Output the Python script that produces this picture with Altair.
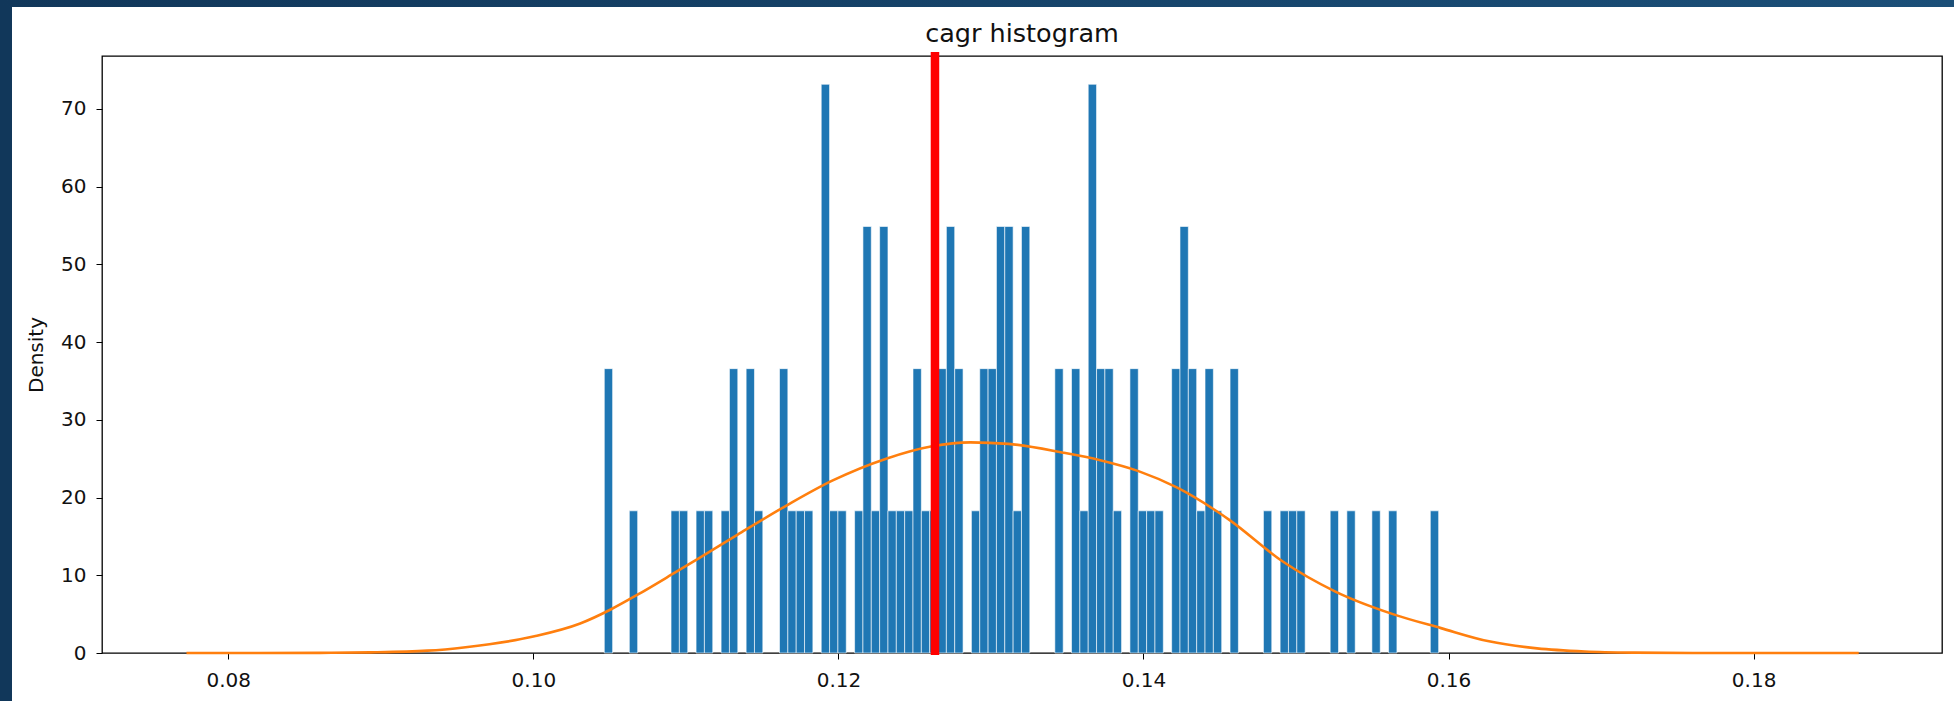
import altair as alt
import pandas as pd

# ---- data ----
# histogram: 100 equal bins, counts per bin (left to right)
bin_counts = [
    2, 0, 0, 1, 0, 0, 0, 0, 1, 1,
    0, 1, 1, 0, 1, 2, 0, 2, 1, 0,
    0, 2, 1, 1, 1, 0, 4, 1, 1, 0,
    1, 3, 1, 3, 1, 1, 1, 2, 1, 1,
    2, 3, 2, 0, 1, 2, 2, 3, 3, 1,
    3, 0, 0, 0, 2, 0, 2, 1, 4, 2,
    2, 1, 0, 2, 1, 1, 1, 0, 2, 3,
    2, 1, 2, 1, 0, 2, 0, 0, 0, 1,
    0, 1, 1, 1, 0, 0, 0, 1, 0, 1,
    0, 0, 1, 0, 1, 0, 0, 0, 0, 1,
]
BIN_START = 0.10465
BIN_WIDTH = 0.000547
DENSITY_PER_COUNT = 18.29

# KDE curve points (x, density)
kde_x = [0.07726, 0.0820, 0.0860, 0.0893, 0.09305, 0.09556, 0.10007, 0.10307,
         0.10507, 0.10683, 0.10933, 0.11103, 0.11337, 0.11662, 0.11963, 0.12313,
         0.12614, 0.12865, 0.13115, 0.13466, 0.13716, 0.13967, 0.14218, 0.14468,
         0.14565, 0.14911, 0.15258, 0.15635, 0.1595, 0.16265, 0.1658, 0.16894,
         0.1722, 0.1760, 0.1820, 0.18689]
kde_y = [0.0, 0.0, 0.02, 0.08, 0.3, 0.75, 2.15, 3.8,
         5.6, 7.5, 10.4, 12.4, 15.2, 19.0, 22.2, 25.0,
         26.6, 27.1, 26.9, 25.8, 24.8, 23.4, 21.3, 18.4,
         17.1, 11.8, 7.9, 5.0, 3.2, 1.5, 0.6, 0.2,
         0.05, 0.0, 0.0, 0.0]

marker_value = [0.12633]
chart_title = "cagr histogram"
y_title = "Density"

x_ticks = [0.08, 0.10, 0.12, 0.14, 0.16, 0.18]
y_ticks = [0, 10, 20, 30, 40, 50, 60, 70]
X_DOMAIN = [0.07172, 0.19235]
Y_DOMAIN = [0, 76.8]

W, H = 1840, 597
PAD_L, PAD_T, PAD_R, PAD_B = 102, 56, 12, 48
FONT = "DejaVu Sans"

bars_df = pd.DataFrame({"i": list(range(len(bin_counts))), "count": bin_counts})
bars_df = bars_df[bars_df["count"] > 0].copy()
bars_df["x0"] = BIN_START + bars_df["i"] * BIN_WIDTH
bars_df["x1"] = bars_df["x0"] + BIN_WIDTH
bars_df["density"] = bars_df["count"] * DENSITY_PER_COUNT

kde_df = pd.DataFrame({"x": kde_x, "y": kde_y})
mark_df = pd.DataFrame({"v": marker_value})
one = pd.DataFrame({"a": [0]})

xscale = alt.Scale(domain=X_DOMAIN, nice=False, zero=False)
yscale = alt.Scale(domain=Y_DOMAIN, nice=False, zero=True)

x_axis = alt.Axis(values=x_ticks, format=".2f", labelFontSize=20, labelFont=FONT,
                  labelColor="#111", tickColor="black", tickSize=6, tickWidth=1,
                  labelPadding=11, domain=False, grid=False, title=None)
y_axis = alt.Axis(values=y_ticks, format="d", labelFontSize=20, labelFont=FONT,
                  labelColor="#111", tickColor="black", tickSize=6, tickWidth=1,
                  labelPadding=10, domain=False, grid=False, title=y_title,
                  titleFont=FONT, titleFontSize=20, titleFontWeight="normal",
                  titleColor="#111", titlePadding=14)

# dark frame strips around the white figure (left and top)
left_strip = alt.Chart(one).mark_rect(color="#11375a").encode(
    x=alt.value(-PAD_L), x2=alt.value(-PAD_L + 12),
    y=alt.value(-PAD_T), y2=alt.value(H + PAD_B),
)
top_strip = alt.Chart(one).mark_rect(
    color=alt.LinearGradient(
        gradient="linear",
        stops=[alt.GradientStop(color="#11375a", offset=0),
               alt.GradientStop(color="#1b4f78", offset=1)],
        x1=0, x2=1, y1=0, y2=0,
    )
).encode(
    x=alt.value(-PAD_L), x2=alt.value(W + PAD_R),
    y=alt.value(-PAD_T), y2=alt.value(-PAD_T + 7),
)

bars = alt.Chart(bars_df).mark_rect(color="#1f77b4", stroke="white", strokeWidth=0.6).encode(
    x=alt.X("x0:Q", scale=xscale, axis=x_axis, title=None),
    x2="x1:Q",
    y=alt.Y("density:Q", scale=yscale, axis=y_axis, title=y_title),
    y2=alt.datum(0),
)

kde = alt.Chart(kde_df).mark_line(color="#ff7f0e", strokeWidth=2.6, interpolate="monotone").encode(
    x=alt.X("x:Q", scale=xscale, axis=x_axis, title=None),
    y=alt.Y("y:Q", scale=yscale, axis=y_axis, title=y_title),
)

red = alt.Chart(mark_df).mark_rule(color="#ff0000", strokeWidth=8.5).encode(
    x=alt.X("v:Q", scale=xscale, axis=x_axis, title=None),
    y=alt.value(-4),
    y2=alt.value(H + 2),
)

title_text = alt.Chart(pd.DataFrame({"t": [chart_title]})).mark_text(
    font=FONT, fontSize=25.5, color="#111", align="center", baseline="alphabetic"
).encode(
    text="t:N", x=alt.value(W / 2), y=alt.value(-14),
)

chart = alt.layer(left_strip, top_strip, bars, kde, red, title_text).properties(
    width=W,
    height=H,
    autosize=alt.AutoSizeParams(type="none"),
    padding={"left": PAD_L, "top": PAD_T, "right": PAD_R, "bottom": PAD_B},
    background="white",
).configure_view(stroke="black", strokeWidth=1.3)

chart.save("out.html", embed_options={"renderer": "svg", "actions": False})
